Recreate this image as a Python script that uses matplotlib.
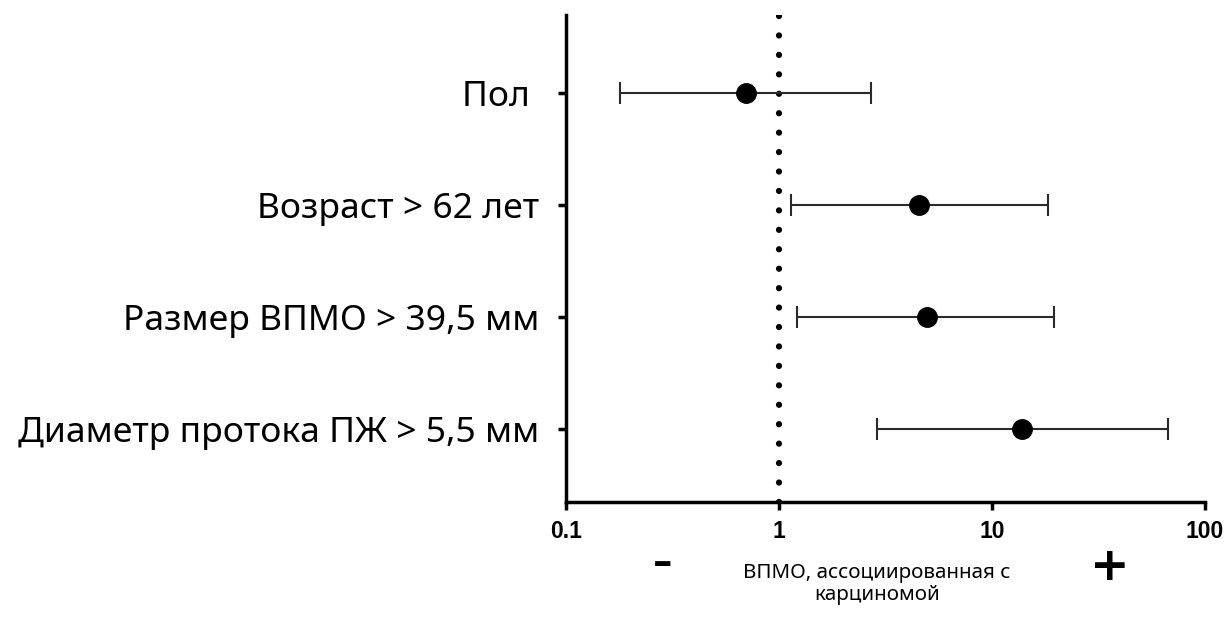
#!/usr/bin/env python3
# Forest plot: factors associated with carcinoma in IPMN (odds ratios, log scale)
import matplotlib.pyplot as plt

labels = ["Пол ", "Возраст > 62 лет", "Размер ВПМО > 39,5 мм", "Диаметр протока ПЖ > 5,5 мм"]
odds = [0.70, 4.55, 4.93, 13.9]
ci_low = [0.18, 1.14, 1.21, 2.88]
ci_high = [2.71, 18.3, 19.6, 66.8]
xticks = [0.1, 1, 10, 100]
xticklabels = ["0.1", "1", "10", "100"]

fig = plt.figure(figsize=(12.32, 6.26), dpi=100)
ax = fig.add_axes([566/1232, 124/626, 639/1232, 487/626])

ys = list(range(len(labels), 0, -1))
err = [[o - l for o, l in zip(odds, ci_low)], [h - o for o, h in zip(odds, ci_high)]]
ax.errorbar(odds, ys, xerr=err, fmt="o", color="black", ecolor="#2a2a2a",
            elinewidth=1.5, capsize=8, capthick=1.5, markersize=14, zorder=3)
ax.axvline(1, color="black", linewidth=4.5, linestyle=(0, (0.01, 3.1)),
           dash_capstyle="round", zorder=2)

ax.set_xscale("log")
ax.set_xlim(0.1, 100)
ax.set_ylim(0.35, 4.7)
ax.set_xticks(xticks)
ax.set_xticklabels(xticklabels, fontfamily="Liberation Sans", fontweight="bold", fontsize=16.5)
ax.xaxis.set_minor_locator(plt.NullLocator())
ax.set_yticks(ys)
ax.set_yticklabels(labels, fontfamily="Noto Sans", fontsize=25.5)
ax.tick_params(axis="y", length=6, width=2.5, pad=13)
ax.tick_params(axis="x", length=6, width=2.5, pad=7)
for s in ["top", "right"]:
    ax.spines[s].set_visible(False)
for s in ["left", "bottom"]:
    ax.spines[s].set_linewidth(2.5)

fig.text(663/1232, 1 - 563/626, "–", fontsize=28, fontweight="bold", ha="center", va="center")
fig.text(877/1232, 1 - 584/626, "ВПМО, ассоциированная с\nкарциномой", fontfamily="Noto Sans",
         fontsize=14.8, ha="center", va="center", linespacing=1.1)
fig.text(1110/1232, 1 - 567/626, "+", fontsize=34, fontweight="bold", ha="center", va="center")

plt.savefig("out.png", dpi=100)
